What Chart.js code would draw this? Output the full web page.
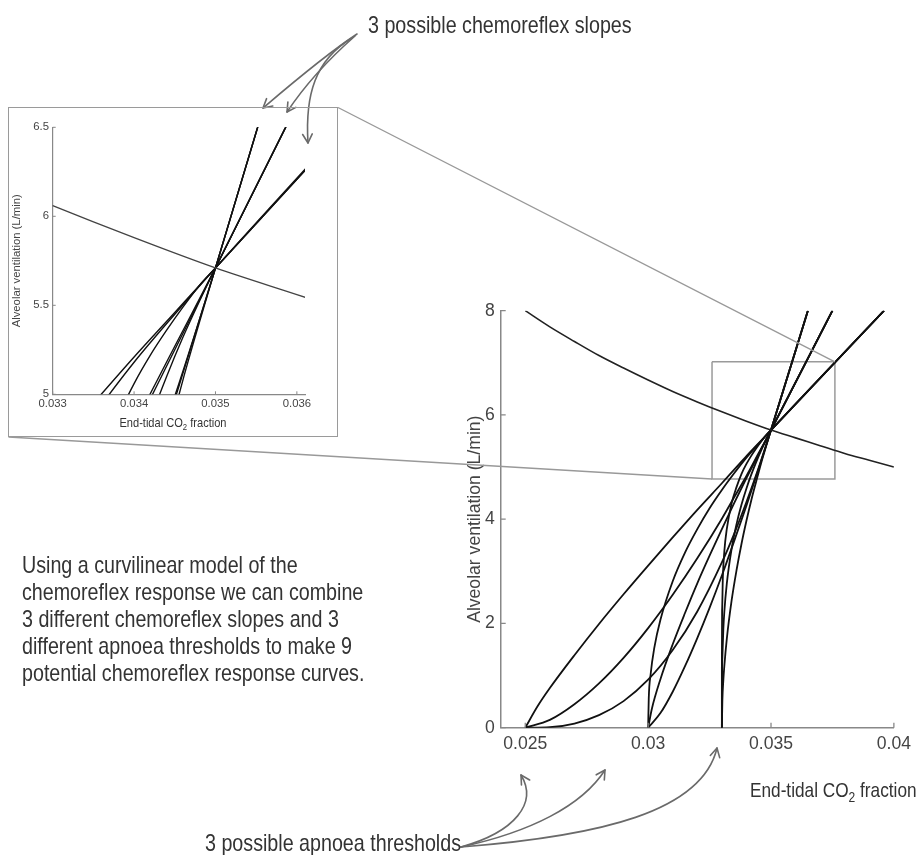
<!DOCTYPE html>
<html>
<head>
<meta charset="utf-8">
<script src="https://cdn.jsdelivr.net/npm/chart.js@4.4.1/dist/chart.umd.min.js"></script>
<style>
  html, body { margin: 0; padding: 0; background: #fff; }
  #page { position: relative; width: 917px; height: 855px; overflow: hidden; }
  canvas { position: absolute; }
  .txt { position: absolute; color: #333; white-space: nowrap; transform-origin: 0 50%; }
  #insetBox { position: absolute; left: 8px; top: 107px; width: 330px; height: 330px;
              border: 1.5px solid #9a9a9a; box-sizing: border-box; }
  sub { font-size: 70%; vertical-align: -0.35em; line-height: 0; }
</style>
</head>
<body>
<div id="page">
  <canvas id="mainChart" width="917" height="855" style="left:0;top:0"></canvas>
  <div id="insetBox"></div>
  <canvas id="insetChart" width="330" height="330" style="left:8px;top:107px"></canvas>

  <div class="txt" data-size="24" data-lh="24" style="left:368px;top:13px">3 possible chemoreflex slopes</div>
  <div class="txt" data-size="24" data-lh="24" style="left:205px;top:831px">3 possible apnoea thresholds</div>
  <div class="txt" data-size="24" data-lh="27" style="left:22px;top:551px">
    Using a curvilinear model of the<br>
    chemoreflex response we can combine<br>
    3 different chemoreflex slopes and 3<br>
    different apnoea thresholds to make 9<br>
    potential chemoreflex response curves.
  </div>
  <div class="txt" data-size="21" data-lh="21" style="left:750px;top:779px">End-tidal CO<sub>2</sub> fraction</div>
  <div class="txt" data-size="13.5" data-lh="14" style="left:73px;top:416px;width:200px;text-align:center;transform-origin:50% 50%">End-tidal CO<sub>2</sub> fraction</div>
</div>

<script>
// metabolic hyperbola (decreasing curve)
const hyperX = [0.025, 0.026, 0.027, 0.028, 0.029, 0.030, 0.031, 0.032, 0.033, 0.034, 0.035, 0.036, 0.037, 0.038, 0.039, 0.040];
const hyperY = [8.00, 7.69, 7.41, 7.14, 6.90, 6.67, 6.45, 6.25, 6.06, 5.88, 5.71, 5.56, 5.41, 5.26, 5.13, 5.00];

// chemoreflex curves: threshold 0.025 (shallow / medium / steep slope)
const c025sX = [0.025, 0.0255, 0.026, 0.027, 0.028, 0.029, 0.030, 0.031, 0.032, 0.033, 0.0335, 0.034, 0.0345, 0.035, 0.0396];
const c025sY = [0, 0.41, 0.76, 1.39, 1.99, 2.56, 3.11, 3.65, 4.18, 4.69, 4.95, 5.21, 5.46, 5.71, 8];
const c025mX = [0.025, 0.026, 0.027, 0.028, 0.029, 0.030, 0.031, 0.032, 0.033, 0.0335, 0.034, 0.0345, 0.035, 0.0375];
const c025mY = [0, 0.15, 0.45, 0.85, 1.34, 1.91, 2.55, 3.25, 4.01, 4.42, 4.83, 5.27, 5.71, 8];
const c025tX = [0.025, 0.026, 0.027, 0.028, 0.029, 0.030, 0.031, 0.032, 0.033, 0.0335, 0.034, 0.0345, 0.035, 0.0365];
const c025tY = [0, 0.01, 0.08, 0.24, 0.51, 0.92, 1.49, 2.23, 3.17, 3.72, 4.33, 4.99, 5.71, 8];

// threshold 0.030
const c030sX = [0.030, 0.030025, 0.0301, 0.03025, 0.0305, 0.031, 0.0315, 0.032, 0.0325, 0.033, 0.0335, 0.034, 0.0345, 0.035, 0.0396];
const c030sY = [0, 0.56, 1.02, 1.53, 2.07, 2.81, 3.36, 3.81, 4.21, 4.56, 4.88, 5.18, 5.45, 5.71, 8];
const c030mX = [0.030, 0.03015, 0.0305, 0.031, 0.0315, 0.032, 0.0325, 0.033, 0.0335, 0.034, 0.0345, 0.035, 0.0375];
const c030mY = [0, 0.36, 0.93, 1.60, 2.20, 2.77, 3.30, 3.81, 4.31, 4.79, 5.25, 5.71, 8];
const c030tX = [0.030, 0.0305, 0.031, 0.0315, 0.032, 0.0325, 0.033, 0.0335, 0.034, 0.0345, 0.035, 0.0365];
const c030tY = [0, 0.28, 0.69, 1.18, 1.72, 2.30, 2.92, 3.58, 4.26, 4.97, 5.71, 8];

// threshold 0.033
const c033sX = [0.033, 0.0330002, 0.03301, 0.03304, 0.0331, 0.0332, 0.0334, 0.0336, 0.0338, 0.034, 0.0342, 0.0344, 0.0346, 0.0348, 0.035, 0.0396];
const c033sY = [0, 1.14, 2.26, 2.88, 3.38, 3.81, 4.31, 4.62, 4.87, 5.06, 5.22, 5.36, 5.49, 5.61, 5.71, 8];
const c033mX = [0.033, 0.033002, 0.03302, 0.03306, 0.0331, 0.0332, 0.0334, 0.0336, 0.0338, 0.034, 0.0342, 0.0344, 0.0346, 0.0348, 0.035, 0.0375];
const c033mY = [0, 0.65, 1.34, 1.89, 2.22, 2.76, 3.44, 3.91, 4.28, 4.59, 4.86, 5.10, 5.32, 5.52, 5.71, 8];
const c033tX = [0.033, 0.03302, 0.03306, 0.0331, 0.0332, 0.0334, 0.0336, 0.0338, 0.034, 0.0342, 0.0344, 0.0346, 0.0348, 0.035, 0.0365];
const c033tY = [0, 0.51, 0.91, 1.18, 1.70, 2.45, 3.03, 3.53, 3.97, 4.37, 4.73, 5.08, 5.40, 5.71, 8];

// zoom box drawn on the main plot
const zoomBoxX = [0.0326, 0.0376];
const zoomBoxY = [4.77, 7.02];

// ticks
const mainXTicks = [0.025, 0.03, 0.035, 0.04];
const mainYTicks = [0, 2, 4, 6, 8];
const insetXTicks = [0.033, 0.034, 0.035, 0.036];
const insetYTicks = [5, 5.5, 6, 6.5];

const curveSets = [
  [c025sX, c025sY], [c025mX, c025mY], [c025tX, c025tY],
  [c030sX, c030sY], [c030mX, c030mY], [c030tX, c030tY],
  [c033sX, c033sY], [c033mX, c033mY], [c033tX, c033tY],
];

// narrow font if present, else scaled regular
const probe = document.createElement('canvas').getContext('2d');
probe.font = '20px "Liberation Sans Narrow", monospace';
const wN = probe.measureText('abcdefghij').width;
probe.font = '20px monospace';
const hasNarrow = wN !== probe.measureText('abcdefghij').width;
const FAMILY = hasNarrow ? '"Liberation Sans Narrow", "Liberation Sans", sans-serif' : '"Liberation Sans", Arial, sans-serif';
const K = hasNarrow ? 1 : 0.84;
const fs = n => Math.round(n * K * 10) / 10;

// html labels: squeeze regular font horizontally so it looks condensed like the original
document.querySelectorAll('.txt').forEach(el => {
  el.style.fontFamily = FAMILY;
  el.style.fontSize = el.dataset.size + 'px';
  el.style.lineHeight = el.dataset.lh + 'px';
  if (!hasNarrow) el.style.transform = 'scaleX(0.82)';
});

const AXIS = '#888';
const TXT = '#444';
const pts = (xs, ys) => xs.map((x, i) => ({x, y: ys[i]}));

function curveDatasets(w) {
  return curveSets.map(([xs, ys]) => ({
    data: pts(xs, ys), borderColor: '#111', borderWidth: w,
    pointRadius: 0, cubicInterpolationMode: 'monotone', fill: false,
  }));
}

// MATLAB-like tick marks pointing into the plot
const innerTicks = {
  id: 'innerTicks',
  afterDatasetsDraw(chart, args, opts) {
    const {ctx, chartArea: a, scales: {x, y}} = chart;
    ctx.save();
    ctx.strokeStyle = AXIS; ctx.lineWidth = opts.width || 1;
    ctx.beginPath();
    opts.xt.forEach(v => { const px = x.getPixelForValue(v); ctx.moveTo(px, a.bottom); ctx.lineTo(px, a.bottom - opts.len); });
    opts.yt.forEach(v => { const py = y.getPixelForValue(v); ctx.moveTo(a.left, py); ctx.lineTo(a.left + opts.len, py); });
    ctx.stroke();
    ctx.restore();
  }
};

function arrow(ctx, p0, p1, p2, p3) {
  ctx.beginPath();
  ctx.moveTo(p0[0], p0[1]);
  ctx.bezierCurveTo(p1[0], p1[1], p2[0], p2[1], p3[0], p3[1]);
  ctx.stroke();
  const ang = Math.atan2(p3[1] - p2[1], p3[0] - p2[0]);
  ctx.beginPath();
  [0.5, -0.5].forEach(d => {
    ctx.moveTo(p3[0], p3[1]);
    ctx.lineTo(p3[0] - 10 * Math.cos(ang + d), p3[1] - 10 * Math.sin(ang + d));
  });
  ctx.stroke();
}

// connectors from zoom box to inset, plus annotation arrows
const decorations = {
  id: 'decorations',
  afterDraw(chart) {
    const {ctx, scales: {x, y}} = chart;
    ctx.save();
    ctx.strokeStyle = '#999'; ctx.lineWidth = 1.4;
    ctx.beginPath();
    ctx.moveTo(338, 107.5); ctx.lineTo(x.getPixelForValue(zoomBoxX[1]), y.getPixelForValue(zoomBoxY[1]));
    ctx.moveTo(8.5, 437);   ctx.lineTo(x.getPixelForValue(zoomBoxX[0]), y.getPixelForValue(zoomBoxY[0]));
    ctx.stroke();

    ctx.strokeStyle = '#6a6a6a'; ctx.lineWidth = 1.6; ctx.lineCap = 'round';
    arrow(ctx, [357, 34], [325, 55], [290, 85], [263, 108]);
    arrow(ctx, [355, 36], [330, 58], [305, 85], [287, 112]);
    arrow(ctx, [352, 38], [315, 60], [305, 95], [308, 143]);
    arrow(ctx, [461, 847], [515, 832], [538, 803], [521, 775]);
    arrow(ctx, [461, 847], [530, 832], [582, 806], [605, 770]);
    arrow(ctx, [461, 847], [600, 836], [702, 812], [717, 748]);
    ctx.restore();
  }
};

const mainFont = {family: FAMILY, size: fs(21)};
new Chart(document.getElementById('mainChart'), {
  type: 'line',
  data: {
    datasets: [
      {data: pts(hyperX, hyperY), borderColor: '#222', borderWidth: 1.6, pointRadius: 0,
       cubicInterpolationMode: 'monotone', fill: false},
      ...curveDatasets(1.8),
      {data: pts([zoomBoxX[0], zoomBoxX[1], zoomBoxX[1], zoomBoxX[0], zoomBoxX[0]],
                 [zoomBoxY[1], zoomBoxY[1], zoomBoxY[0], zoomBoxY[0], zoomBoxY[1]]),
       borderColor: '#9a9a9a', borderWidth: 1.5, pointRadius: 0, tension: 0, fill: false, order: 2},
    ],
  },
  options: {
    responsive: false, animation: false, devicePixelRatio: 1,
    layout: {autoPadding: false, padding: {left: 460.7, top: 310.7, right: 21.3, bottom: 91.3}},
    plugins: {legend: {display: false}, tooltip: {enabled: false},
              innerTicks: {xt: mainXTicks, yt: mainYTicks, len: 5, width: 1.3}},
    scales: {
      x: {
        type: 'linear', min: 0.024, max: 0.04,
        afterBuildTicks: s => { s.ticks = mainXTicks.map(v => ({value: v})); },
        afterFit: s => { s.height = 36; },
        grid: {display: false, drawTicks: false},
        border: {color: AXIS, width: 1.5},
        ticks: {font: mainFont, color: TXT, padding: 6, maxRotation: 0, autoSkip: false, callback: v => String(v)},
      },
      y: {
        type: 'linear', min: 0, max: 8,
        afterBuildTicks: s => { s.ticks = mainYTicks.map(v => ({value: v})); },
        afterFit: s => { s.width = 40; },
        grid: {display: false, drawTicks: false},
        border: {color: AXIS, width: 1.5},
        ticks: {font: mainFont, color: TXT, padding: 6, callback: v => String(v)},
        title: {display: true, text: 'Alveolar ventilation (L/min)', font: mainFont, color: TXT, padding: {top: 3.7, bottom: 0}},
      },
    },
  },
  plugins: [innerTicks, decorations],
});

const insetFont = {family: FAMILY, size: fs(13.5)};
new Chart(document.getElementById('insetChart'), {
  type: 'line',
  data: {
    datasets: [
      {data: pts(hyperX, hyperY), borderColor: '#444', borderWidth: 1.3, pointRadius: 0,
       cubicInterpolationMode: 'monotone', fill: false},
      ...curveDatasets(1.4),
    ],
  },
  options: {
    responsive: false, animation: false, devicePixelRatio: 1,
    layout: {autoPadding: false, padding: {left: 0, top: 20.3, right: 33, bottom: 20.7}},
    plugins: {legend: {display: false}, tooltip: {enabled: false},
              innerTicks: {xt: insetXTicks, yt: insetYTicks, len: 3, width: 1}},
    scales: {
      x: {
        type: 'linear', min: 0.033, max: 0.0361,
        afterBuildTicks: s => { s.ticks = insetXTicks.map(v => ({value: v})); },
        afterFit: s => { s.height = 22; },
        grid: {display: false, drawTicks: false},
        border: {color: AXIS, width: 1.2},
        ticks: {font: insetFont, color: TXT, padding: 2.6, maxRotation: 0, autoSkip: false, callback: v => String(v)},
      },
      y: {
        type: 'linear', min: 5, max: 6.5,
        afterBuildTicks: s => { s.ticks = insetYTicks.map(v => ({value: v})); },
        afterFit: s => { s.width = 44.7; },
        grid: {display: false, drawTicks: false},
        border: {color: AXIS, width: 1.2},
        ticks: {font: insetFont, color: TXT, padding: 3.7, callback: v => String(v)},
        title: {display: true, text: 'Alveolar ventilation (L/min)', font: insetFont, color: TXT, padding: {top: 2, bottom: 0}},
      },
    },
  },
  plugins: [innerTicks],
});
</script>
</body>
</html>
